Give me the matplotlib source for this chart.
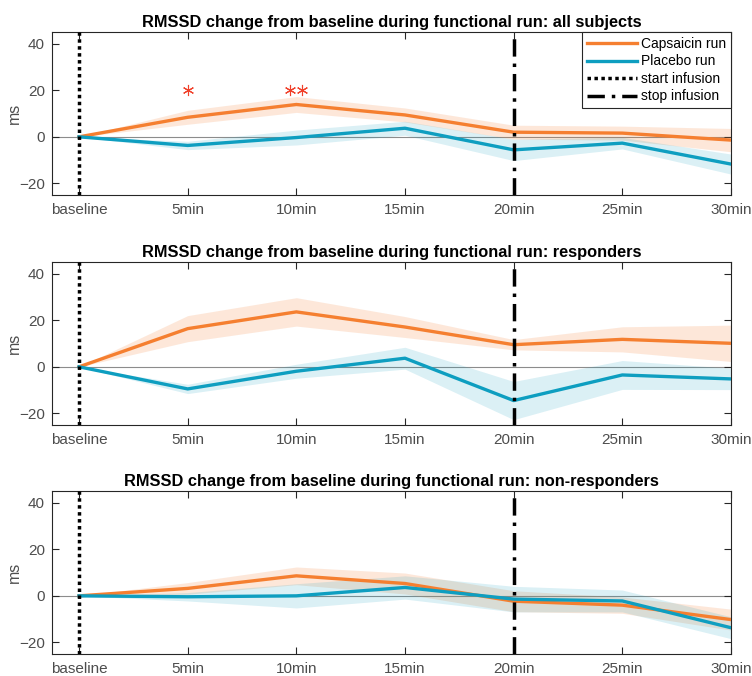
import numpy as np
import matplotlib
matplotlib.use('Agg')
import matplotlib.pyplot as plt

plt.rcParams['font.family'] = ['Liberation Sans', 'DejaVu Sans']

time_labels = ['baseline', '5min', '10min', '15min', '20min', '25min', '30min']

titles = ['RMSSD change from baseline during functional run: all subjects',
          'RMSSD change from baseline during functional run: responders',
          'RMSSD change from baseline during functional run: non-responders']

# mean change (ms) and shaded error per group
caps_all = [0, 8.4, 13.9, 9.4, 2.0, 1.6, -1.4]
caps_all_err = [0, 3.0, 3.4, 3.0, 3.0, 3.0, 5.0]
plac_all = [0, -3.7, -0.3, 3.7, -5.6, -2.7, -11.7]
plac_all_err = [0, 1.8, 3.2, 3.0, 4.6, 2.5, 4.3]

caps_resp = [0, 16.4, 23.6, 17.1, 9.5, 11.8, 10.1]
caps_resp_err = [0, 5.6, 6.1, 4.5, 2.2, 5.4, 7.8]
plac_resp = [0, -9.5, -1.9, 3.7, -14.5, -3.5, -5.2]
plac_resp_err = [0, 2.0, 3.0, 4.7, 8.2, 6.2, 4.6]

caps_nonresp = [0, 3.2, 8.6, 5.3, -2.3, -4.0, -10.2]
caps_nonresp_err = [0, 2.5, 3.8, 4.5, 4.5, 3.5, 4.5]
plac_nonresp = [0, -0.4, 0.0, 3.6, -1.4, -2.2, -13.7]
plac_nonresp_err = [0, 1.8, 5.2, 5.0, 5.5, 4.7, 4.7]

# significance markers (panel 1): x positions in category units, y in ms
star_x = [1, 1.94, 2.05]
star_y = [20, 20, 20]

groups = [
    (caps_all, caps_all_err, plac_all, plac_all_err),
    (caps_resp, caps_resp_err, plac_resp, plac_resp_err),
    (caps_nonresp, caps_nonresp_err, plac_nonresp, plac_nonresp_err),
]

orange = '#F57F30'
blue = '#0E9EC0'
axcol = '#262626'
ticklabcol = '#4D4D4D'

fig = plt.figure(figsize=(7.52, 6.76), dpi=100)
bottoms = [0.7115, 0.3713, 0.0325]
x = np.arange(len(time_labels))

for i, (caps, caps_err, plac, plac_err) in enumerate(groups):
    ax = fig.add_axes([0.069, bottoms[i], 0.903, 0.241])
    caps = np.array(caps); caps_err = np.array(caps_err)
    plac = np.array(plac); plac_err = np.array(plac_err)

    ax.axhline(0, color='#8C8C8C', lw=0.8, zorder=1)
    ax.fill_between(x, caps - caps_err, caps + caps_err, color=orange, alpha=0.18, lw=0, zorder=2)
    ax.fill_between(x, plac - plac_err, plac + plac_err, color=blue, alpha=0.15, lw=0, zorder=2)
    ax.plot(x, caps, color=orange, lw=2.4, label='Capsaicin run', zorder=4)
    ax.plot(x, plac, color=blue, lw=2.4, label='Placebo run', zorder=4)
    ax.axvline(0, color='black', lw=2.5, ls=(0, (1, 1)), label='start infusion', zorder=5)
    ax.axvline(4, color='black', lw=2.5, ls=(0, (5, 2, 1, 2)), label='stop infusion', zorder=5)

    if i == 0:
        ax.plot(star_x, star_y, ls='none', marker=(6, 2, 0), ms=8, mew=0.8,
                color='#F0402A', zorder=6)
        leg = ax.legend(loc='upper right', fontsize=10, frameon=True, fancybox=False,
                        borderpad=0.35, handlelength=3.6, handletextpad=0.3,
                        labelspacing=0.25, borderaxespad=0.0, framealpha=1)
        leg.get_frame().set_edgecolor(axcol)
        leg.get_frame().set_linewidth(0.8)

    ax.set_xlim(-0.25, 6)
    ax.set_ylim(-25, 45)
    ax.set_xticks(x)
    ax.set_xticklabels(time_labels)
    ax.set_yticks([-20, 0, 20, 40])
    ax.set_ylabel('ms', fontsize=11.5, color=ticklabcol)
    ax.yaxis.set_label_coords(-0.044, 0.5)
    ax.set_title(titles[i], fontsize=11.8, fontweight='bold', color='black', pad=4)
    ax.tick_params(direction='in', top=True, right=True, length=5, width=0.8,
                   labelsize=11, colors=axcol, labelcolor=ticklabcol)
    ax.tick_params(axis='x', pad=6)
    ax.tick_params(axis='y', pad=5)
    for sp in ax.spines.values():
        sp.set_color(axcol)
        sp.set_linewidth(0.8)

fig.savefig('out.png', dpi=100)
